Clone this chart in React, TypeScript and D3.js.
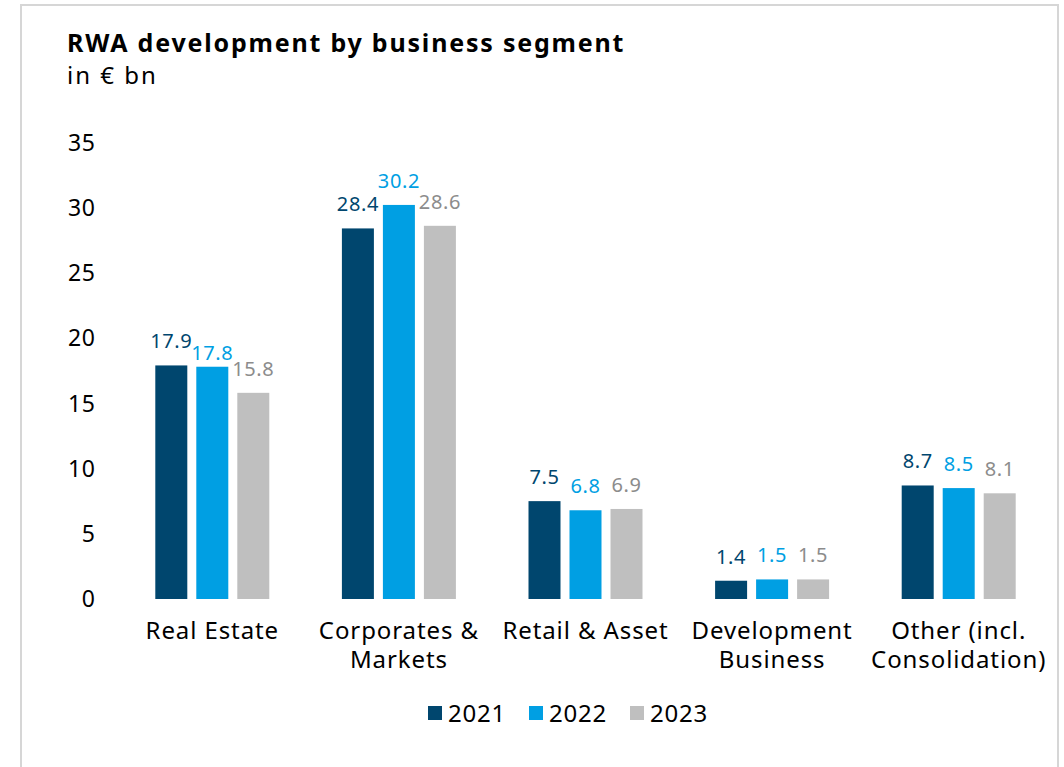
import React from "react";
import * as d3 from "d3";

const categories = [
  ["Real Estate"],
  ["Corporates &", "Markets"],
  ["Retail & Asset"],
  ["Development", "Business"],
  ["Other (incl.", "Consolidation)"],
];
const years = ["2021", "2022", "2023"];
const values2021 = [17.9, 28.4, 7.5, 1.4, 8.7];
const values2022 = [17.8, 30.2, 6.8, 1.5, 8.5];
const values2023 = [15.8, 28.6, 6.9, 1.5, 8.1];
const yTicks = [0, 5, 10, 15, 20, 25, 30, 35];

const barColors = ["#00466e", "#009fe3", "#bfbfbf"];
const labelColors = ["#00466e", "#009fe3", "#8c8c8c"];
const FONT = "'Noto Sans', 'Open Sans', sans-serif";

export default function App() {
  const W = 1064, H = 767;
  const series = [values2021, values2022, values2023];
  const x = d3.scaleBand<number>().domain(d3.range(categories.length)).range([119, 1052]);
  const y = d3.scaleLinear().domain([0, 35]).range([599, 142.3]);
  const barW = 32, step = 41;

  return (
    <svg width={W} height={H} style={{ position: "absolute", left: 0, top: 0, background: "#fff" }}
      fontFamily={FONT}>
      <rect x={0} y={0} width={W} height={H} fill="#fff" />
      <path d={`M21,${H} V5 H1058 V${H}`} fill="none" stroke="#d6d6d6" strokeWidth={2} />
      <text x={67} y={52} fontSize={25} fontWeight={700} letterSpacing={1.8} fill="#000">RWA development by business segment</text>
      <text x={67} y={84} fontSize={24} letterSpacing={2} fill="#000">in € bn</text>

      {yTicks.map((t) => (
        <text key={t} x={95.8} y={y(t)} dy="0.36em" textAnchor="end" fontSize={23} letterSpacing={0.8} fill="#000">{t}</text>
      ))}

      {categories.map((lines, i) => {
        const cx = x(i)! + x.bandwidth() / 2;
        return (
          <g key={i}>
            {series.map((s, k) => {
              const bx = cx + (k - 1) * step - barW / 2;
              // the 2022 label of the first group sits lower to avoid touching its neighbour
              const nudge = i === 0 && k === 1 ? 10.5 : 0;
              return (
                <g key={k}>
                  <rect x={bx} y={y(s[i])} width={barW} height={y(0) - y(s[i])} fill={barColors[k]} />
                  <text x={bx + barW / 2} y={y(s[i]) - 17 + nudge} textAnchor="middle" fontSize={20} letterSpacing={0.6} fill={labelColors[k]}>
                    {s[i].toFixed(1)}
                  </text>
                </g>
              );
            })}
            {lines.map((l, j) => (
              <text key={j} x={cx} y={639 + j * 29} textAnchor="middle" fontSize={24} letterSpacing={0.9} fill="#000">{l}</text>
            ))}
          </g>
        );
      })}

      {years.map((yr, k) => {
        const lx = 428 + k * 101;
        return (
          <g key={yr}>
            <rect x={lx} y={706} width={14} height={14} fill={barColors[k]} />
            <text x={lx + 20} y={722} fontSize={24} letterSpacing={0.8} fill="#000">{yr}</text>
          </g>
        );
      })}
    </svg>
  );
}
